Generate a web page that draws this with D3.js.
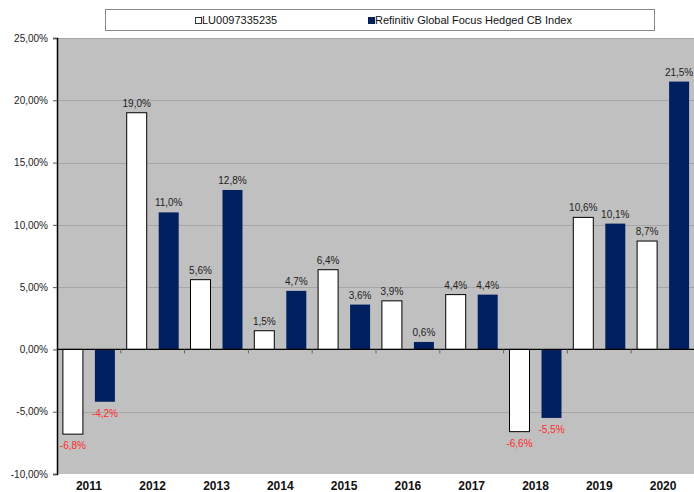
<!DOCTYPE html>
<html>
<head>
<meta charset="utf-8">
<script src="https://cdn.jsdelivr.net/npm/d3@7"></script>
<style>
  body { margin: 0; background: #fff; }
  svg { display: block; font-family: "Liberation Sans", Arial, sans-serif; }
</style>
</head>
<body>
<svg id="chart" width="694" height="492"></svg>
<script>
    var years = ['2011', '2012', '2013', '2014', '2015', '2016', '2017', '2018', '2019', '2020'];
    var fundValues = [-6.8, 19.0, 5.6, 1.5, 6.4, 3.9, 4.4, -6.6, 10.6, 8.7];
    var indexValues = [-4.2, 11.0, 12.8, 4.7, 3.6, 0.6, 4.4, -5.5, 10.1, 21.5];
    var seriesNames = ['LU0097335235', 'Refinitiv Global Focus Hedged CB Index'];
    var yTicks = [-10, -5, 0, 5, 10, 15, 20, 25];

(function () {
    'use strict';

    var plotLeft = 57;
    var plotRight = 695;
    var plotTop = 38;
    var plotBottom = 474;
    var navy = '#002060';

    var svg = d3.select('#chart');

    var x = d3.scaleBand()
        .domain(years)
        .range([plotLeft, plotRight]);

    var barW = 20;
    var gap = 12;
    var pad = (x.bandwidth() - 2 * barW - gap) / 2;

    var y = d3.scaleLinear()
        .domain([-10, 25])
        .range([plotBottom, plotTop]);

    var fmt = function (v) {
        return v.toFixed(1).replace('.', ',') + '%';
    };

    // plot background
    svg.append('rect')
        .attr('x', plotLeft)
        .attr('y', plotTop)
        .attr('width', plotRight - plotLeft)
        .attr('height', plotBottom - plotTop)
        .attr('fill', '#c0c0c0');

    // gridlines
    svg.append('g')
        .selectAll('line')
        .data(yTicks.filter(function (d) { return d !== 0 && d !== -10; }))
        .enter().append('line')
        .attr('x1', plotLeft)
        .attr('x2', plotRight)
        .attr('y1', function (d) { return Math.round(y(d)) + 0.5; })
        .attr('y2', function (d) { return Math.round(y(d)) + 0.5; })
        .attr('stroke', '#a6a6a6')
        .attr('stroke-width', 1);

    // y axis
    var yAxis = svg.append('g')
        .attr('transform', 'translate(' + plotLeft + ',0)')
        .call(d3.axisLeft(y)
            .tickValues(yTicks)
            .tickSize(4)
            .tickFormat(function (d) { return d.toFixed(2).replace('.', ',') + '%'; }));
    yAxis.select('.domain').attr('stroke', '#000').attr('stroke-width', 1.5);
    yAxis.selectAll('.tick line').attr('stroke', '#555');
    yAxis.selectAll('.tick text')
        .attr('x', -9)
        .attr('font-size', 10)
        .attr('font-family', '"Liberation Sans", Arial, sans-serif')
        .attr('fill', '#222');

    var groups = years.map(function (yr, i) {
        return { year: yr, fund: fundValues[i], index: indexValues[i] };
    });

    function barTop(v) { return v >= 0 ? y(v) : y(0); }
    function barHeight(v) { return Math.abs(y(v) - y(0)); }

    // fund bars (white)
    svg.append('g')
        .selectAll('rect')
        .data(groups)
        .enter().append('rect')
        .attr('x', function (d) { return x(d.year) + pad; })
        .attr('y', function (d) { return barTop(d.fund); })
        .attr('width', barW)
        .attr('height', function (d) { return barHeight(d.fund); })
        .attr('fill', '#fff')
        .attr('stroke', '#000')
        .attr('stroke-width', 1);

    // index bars (navy)
    svg.append('g')
        .selectAll('rect')
        .data(groups)
        .enter().append('rect')
        .attr('x', function (d) { return x(d.year) + pad + barW + gap; })
        .attr('y', function (d) { return barTop(d.index); })
        .attr('width', barW)
        .attr('height', function (d) { return barHeight(d.index); })
        .attr('fill', navy);

    // zero line and x ticks
    svg.append('line')
        .attr('x1', plotLeft)
        .attr('x2', plotRight)
        .attr('y1', y(0))
        .attr('y2', y(0))
        .attr('stroke', '#000')
        .attr('stroke-width', 1.2);

    svg.append('g')
        .selectAll('line')
        .data(years.slice(1))
        .enter().append('line')
        .attr('x1', function (d) { return x(d); })
        .attr('x2', function (d) { return x(d); })
        .attr('y1', y(0))
        .attr('y2', y(0) + 4)
        .attr('stroke', '#666');

    // value labels
    function addLabels(key, offset) {
        svg.append('g')
            .selectAll('text')
            .data(groups)
            .enter().append('text')
            .attr('x', function (d) { return x(d.year) + offset + barW / 2; })
            .attr('y', function (d) {
                return d[key] >= 0 ? y(d[key]) - 6 : y(d[key]) + 15;
            })
            .attr('text-anchor', 'middle')
            .attr('font-size', 10)
            .attr('fill', function (d) { return d[key] >= 0 ? '#222' : '#ff2a2a'; })
            .text(function (d) { return fmt(d[key]); });
    }
    addLabels('fund', pad);
    addLabels('index', pad + barW + gap);

    // year labels
    svg.append('g')
        .selectAll('text')
        .data(years)
        .enter().append('text')
        .attr('x', function (d) { return x(d) + x.bandwidth() / 2; })
        .attr('y', 490)
        .attr('text-anchor', 'middle')
        .attr('font-size', 12)
        .attr('font-weight', 'bold')
        .attr('fill', '#111')
        .text(function (d) { return d; });

    // legend
    var legend = svg.append('g');
    legend.append('rect')
        .attr('x', 105.5)
        .attr('y', 9.5)
        .attr('width', 549)
        .attr('height', 21)
        .attr('fill', '#fff')
        .attr('stroke', '#888');

    var legendItems = [
        { name: seriesNames[0], x: 195, fill: '#fff', stroke: '#333' },
        { name: seriesNames[1], x: 368, fill: navy, stroke: navy }
    ];
    var li = legend.selectAll('.item')
        .data(legendItems)
        .enter().append('g')
        .attr('class', 'item');
    li.append('rect')
        .attr('x', function (d) { return d.x + 0.5; })
        .attr('y', 17.5)
        .attr('width', 6)
        .attr('height', 6)
        .attr('fill', function (d) { return d.fill; })
        .attr('stroke', function (d) { return d.stroke; });
    li.append('text')
        .attr('x', function (d) { return d.x + 7; })
        .attr('y', 24)
        .attr('font-size', 11)
        .attr('fill', '#111')
        .text(function (d) { return d.name; });
})();
</script>
</body>
</html>
